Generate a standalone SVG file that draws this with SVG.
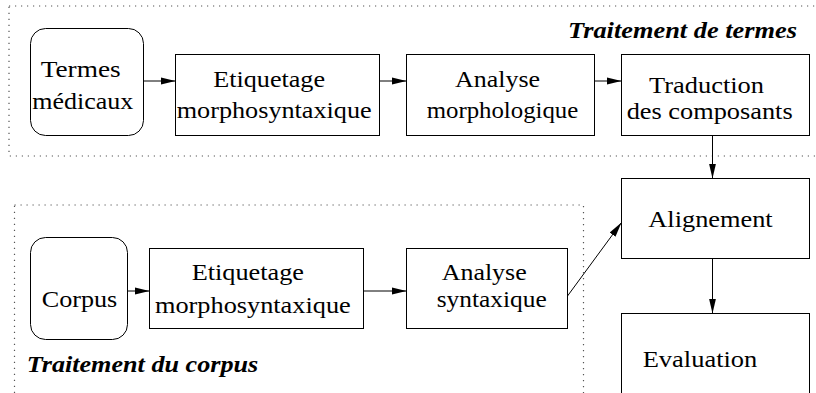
<svg xmlns="http://www.w3.org/2000/svg" width="816" height="393" viewBox="0 0 816 393">
<style>
.b{fill:#fff;stroke:#000;stroke-width:1}
.g{fill:none;stroke:#555;stroke-width:1.2;stroke-dasharray:1.2 4.8}
.c{fill:none;stroke:#000;stroke-width:1}
</style>
<defs>
<marker id="ah" markerUnits="userSpaceOnUse" markerWidth="15" markerHeight="8" refX="15" refY="3.5" orient="auto" viewBox="0 0 15 7">
<path d="M0,0 L15,3.5 L0,7 z" fill="#000"/>
</marker>
</defs>
<rect width="816" height="393" fill="#fff"/>
<g font-family="Liberation Serif, DejaVu Serif, serif" font-size="24" fill="#000">
<g id="groups">
<rect class="g" x="9" y="6" width="820" height="150"/>
<text font-weight="bold" font-style="italic" x="568" y="38" textLength="229" lengthAdjust="spacingAndGlyphs">Traitement de termes</text>
<rect class="g" x="14.5" y="205" width="569" height="200"/>
<text font-weight="bold" font-style="italic" x="26.7" y="371.7" textLength="231.6" lengthAdjust="spacingAndGlyphs">Traitement du corpus</text>
</g>
<g id="connectors">
<line class="c" x1="143.5" y1="81" x2="175.5" y2="81" marker-end="url(#ah)"/>
<line class="c" x1="379.5" y1="81" x2="406.5" y2="81" marker-end="url(#ah)"/>
<line class="c" x1="594.5" y1="81" x2="621.5" y2="81" marker-end="url(#ah)"/>
<line class="c" x1="127.5" y1="291" x2="149.5" y2="291" marker-end="url(#ah)"/>
<line class="c" x1="363.5" y1="291" x2="406.5" y2="291" marker-end="url(#ah)"/>
<line class="c" x1="567.5" y1="296" x2="621.5" y2="222.5" marker-end="url(#ah)"/>
<line class="c" x1="712.5" y1="135.5" x2="712.5" y2="178.5" marker-end="url(#ah)"/>
<line class="c" x1="712.5" y1="258.5" x2="712.5" y2="313.5" marker-end="url(#ah)"/>
</g>
<g id="termes">
<rect class="b" x="30.5" y="28.5" width="113" height="107" rx="15"/>
<text x="40.7" y="77.3" textLength="80" lengthAdjust="spacingAndGlyphs">Termes</text>
<text x="32.3" y="109.3" textLength="101" lengthAdjust="spacingAndGlyphs">médicaux</text>
</g>
<g id="etiq1">
<rect class="b" x="175.5" y="54.5" width="204" height="81"/>
<text x="213.3" y="87.3" textLength="111.7" lengthAdjust="spacingAndGlyphs">Etiquetage</text>
<text x="176.7" y="118.3" textLength="195" lengthAdjust="spacingAndGlyphs">morphosyntaxique</text>
</g>
<g id="morph">
<rect class="b" x="406.5" y="54.5" width="188" height="81"/>
<text x="455" y="87.3" textLength="85" lengthAdjust="spacingAndGlyphs">Analyse</text>
<text x="426.7" y="118.3" textLength="151.6" lengthAdjust="spacingAndGlyphs">morphologique</text>
</g>
<g id="traduction">
<rect class="b" x="621.5" y="54.5" width="188" height="81"/>
<text x="649" y="93.3" textLength="115" lengthAdjust="spacingAndGlyphs">Traduction</text>
<text x="626.7" y="119" textLength="166" lengthAdjust="spacingAndGlyphs">des composants</text>
</g>
<g id="corpus">
<rect class="b" x="30.5" y="237.5" width="97" height="102" rx="15"/>
<text x="41.7" y="307.3" textLength="75.6" lengthAdjust="spacingAndGlyphs">Corpus</text>
</g>
<g id="etiq2">
<rect class="b" x="149.5" y="248.5" width="214" height="80"/>
<text x="191.7" y="280" textLength="112.3" lengthAdjust="spacingAndGlyphs">Etiquetage</text>
<text x="155" y="313.3" textLength="195.7" lengthAdjust="spacingAndGlyphs">morphosyntaxique</text>
</g>
<g id="syntax">
<rect class="b" x="406.5" y="248.5" width="161" height="80"/>
<text x="441.7" y="280" textLength="85" lengthAdjust="spacingAndGlyphs">Analyse</text>
<text x="436.7" y="306.7" textLength="110" lengthAdjust="spacingAndGlyphs">syntaxique</text>
</g>
<g id="alignement">
<rect class="b" x="621.5" y="178.5" width="188" height="80"/>
<text x="648.3" y="226.7" textLength="124.4" lengthAdjust="spacingAndGlyphs">Alignement</text>
</g>
<g id="evaluation">
<rect class="b" x="621.5" y="313.5" width="188" height="100"/>
<text x="642.7" y="366.7" textLength="114.6" lengthAdjust="spacingAndGlyphs">Evaluation</text>
</g>
</g>
</svg>
